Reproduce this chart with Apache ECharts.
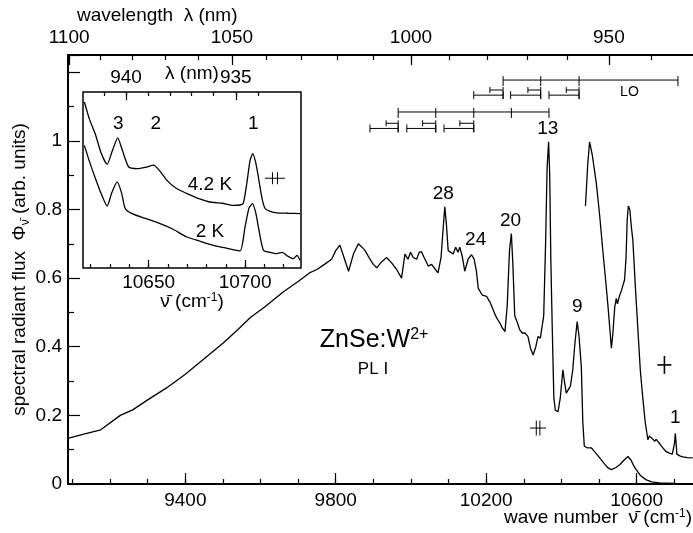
<!DOCTYPE html>
<html>
<head>
<meta charset="utf-8">
<script src="https://cdn.jsdelivr.net/npm/echarts@6.0.0/dist/echarts.min.js"></script>
<style>
  html, body { margin: 0; padding: 0; background: #fff; }
  #chart { width: 693px; height: 533px; }
</style>
</head>
<body>
<div id="chart"></div>
<script>
// PL I spectrum, wave number (cm-1) and spectral radiant flux (arb. units)
const mainWave = [9090, 9130, 9175, 9227, 9260, 9300, 9350, 9400, 9450, 9500, 9540, 9573, 9610, 9661, 9700, 9730, 9750, 9770, 9789, 9800,
  9811, 9822, 9834, 9847, 9860, 9870, 9878, 9891, 9900, 9909, 9920, 9935, 9948, 9962, 9975, 9984, 9992, 9999, 10006, 10015,
  10022, 10028, 10035, 10046, 10055, 10065, 10072, 10080, 10086, 10090, 10094, 10099, 10106, 10112, 10119, 10125, 10130, 10137, 10143, 10152,
  10161, 10168, 10174, 10179, 10190, 10201, 10210, 10216, 10223, 10230, 10236, 10243, 10250, 10256, 10262, 10267, 10271, 10276, 10283, 10289,
  10296, 10303, 10311, 10318, 10325, 10332, 10338, 10344, 10349, 10353, 10358, 10362, 10366, 10369, 10372, 10376, 10380, 10384, 10391, 10397,
  10404, 10408, 10413, 10418, 10424, 10430, 10436, 10442, 10447, 10453, 10457, 10461, 10470, 10480, 10490, 10502, 10515, 10525, 10533, 10545,
  10555, 10567, 10577, 10585, 10593, 10599, 10610, 10626, 10640, 10661, 10700, 10750];
const mainFlux = [0.134, 0.145, 0.158, 0.200, 0.216, 0.245, 0.280, 0.320, 0.365, 0.410, 0.450, 0.485, 0.515, 0.560, 0.590, 0.615, 0.625, 0.640, 0.655, 0.680,
  0.696, 0.660, 0.620, 0.670, 0.700, 0.690, 0.680, 0.655, 0.640, 0.630, 0.645, 0.660, 0.645, 0.625, 0.600, 0.670, 0.655, 0.675, 0.660, 0.655,
  0.675, 0.677, 0.660, 0.635, 0.640, 0.625, 0.615, 0.660, 0.750, 0.808, 0.760, 0.680, 0.675, 0.670, 0.690, 0.675, 0.690, 0.660, 0.620, 0.655,
  0.668, 0.655, 0.620, 0.570, 0.550, 0.547, 0.530, 0.515, 0.495, 0.480, 0.470, 0.455, 0.444, 0.520, 0.680, 0.730, 0.640, 0.490, 0.470, 0.450,
  0.440, 0.440, 0.430, 0.395, 0.376, 0.400, 0.430, 0.425, 0.430, 0.490, 0.700, 0.920, 0.997, 0.900, 0.650, 0.440, 0.250, 0.215, 0.211, 0.250,
  0.333, 0.300, 0.265, 0.270, 0.285, 0.330, 0.410, 0.473, 0.430, 0.342, 0.180, 0.110, 0.105, 0.105, 0.092, 0.076, 0.058, 0.046, 0.042, 0.048,
  0.056, 0.070, 0.080, 0.070, 0.052, 0.042, 0.025, 0.012, 0.006, 0.003, 0.002, 0.001];

// magnified high energy part of the spectrum
const magWave = [10464, 10470, 10475, 10482, 10493, 10502, 10510, 10518, 10524, 10529, 10533, 10537, 10542, 10546, 10549, 10551, 10555, 10559, 10564, 10568,
  10572, 10575, 10578, 10582, 10586, 10590, 10597, 10604, 10610, 10617, 10623, 10630, 10634, 10639, 10644, 10648, 10652, 10657, 10663, 10670,
  10678, 10687, 10695, 10699, 10701, 10703, 10705, 10707, 10715, 10723, 10735, 10749];
const magFlux = [0.810, 0.930, 0.997, 0.960, 0.876, 0.780, 0.682, 0.590, 0.517, 0.450, 0.396, 0.440, 0.517, 0.541, 0.525, 0.527, 0.550, 0.561, 0.580, 0.595,
  0.660, 0.770, 0.810, 0.800, 0.750, 0.711, 0.570, 0.440, 0.330, 0.245, 0.180, 0.129, 0.140, 0.139, 0.130, 0.124, 0.130, 0.129, 0.115, 0.105,
  0.095, 0.090, 0.087, 0.090, 0.120, 0.148, 0.120, 0.087, 0.082, 0.079, 0.077, 0.076];

// inset: 4.2 K and 2 K spectra near the zero phonon line
const inset42Wave = [10616.7, 10619.5, 10622.4, 10625.5, 10628.5, 10631.3, 10634, 10636.4, 10639.7, 10644, 10648.3, 10652.6, 10656, 10659.5, 10664.3, 10669.9, 10675.7, 10681.9,
  10688.1, 10694, 10697.4, 10699.1, 10700.9, 10702.6, 10704, 10705.5, 10706.9, 10708.8, 10710.4, 10713, 10716.4, 10722.3, 10728.5];
const inset42Flux = [0.943, 0.840, 0.760, 0.650, 0.589, 0.669, 0.739, 0.669, 0.574, 0.565, 0.572, 0.584, 0.549, 0.498, 0.453, 0.423, 0.396, 0.375,
  0.368, 0.356, 0.358, 0.368, 0.480, 0.612, 0.650, 0.600, 0.517, 0.396, 0.338, 0.322, 0.313, 0.311, 0.309];
const inset2Wave = [10616.7, 10619.5, 10622.4, 10625.5, 10628.5, 10631, 10633.7, 10635.9, 10637.9, 10641.4, 10648.3, 10656, 10662.7, 10669.9, 10676.7, 10683.6, 10690.7, 10697.4,
  10700, 10702, 10703.8, 10705.5, 10706.9, 10709.5, 10713, 10716.4, 10719.2, 10722.3, 10725, 10726.9, 10728.5];
const inset2Flux = [0.697, 0.600, 0.510, 0.420, 0.352, 0.430, 0.489, 0.430, 0.338, 0.309, 0.282, 0.252, 0.220, 0.176, 0.152, 0.129, 0.112, 0.097,
  0.233, 0.339, 0.366, 0.316, 0.233, 0.101, 0.089, 0.082, 0.089, 0.066, 0.053, 0.072, 0.044];

// axis ticks
const waveTicks = [9100, 9200, 9300, 9400, 9500, 9600, 9700, 9800, 9900, 10000, 10100, 10200, 10300, 10400, 10500, 10600, 10700];
const waveLabels = [9400, 9800, 10200, 10600];
const lambdaTicks = [1100, 1090, 1080, 1070, 1060, 1050, 1040, 1030, 1020, 1010, 1000, 990, 980, 970, 960, 950, 940];
const lambdaLabels = [1100, 1050, 1000, 950];
const insetWaveTicks = [10620, 10630, 10640, 10650, 10660, 10670, 10680, 10690, 10700, 10710, 10720];
const insetWaveLabels = [10650, 10700];
const insetLambdaTicks = [941, 940, 939, 938, 937, 936, 935, 934];
const insetLambdaLabels = [940, 935];

// peak labels
const peakNames = ['28', '24', '20', '13', '9', '1'];
const peakWave = [10086, 10172, 10265, 10364, 10442, 10703];
const peakFlux = [0.847, 0.713, 0.767, 1.036, 0.517, 0.192];
const insetPeakNames = ['3', '2', '1', '4.2 K', '2 K'];
const insetPeakWave = [10634.3, 10653.7, 10704.3, 10681.8, 10681.8];
const insetPeakFlux = [0.822, 0.822, 0.822, 0.472, 0.206];

// LO phonon ladders at the top
const loLadders = [[10245, 10345, 10447, 10710], [9966, 10066, 10167, 10267, 10367]];
const loLadderFlux = [1.177, 1.084];
const loSpans = [[10167, 10245], [10265, 10345], [10367, 10447], [9891, 9966], [9989, 10066], [10088, 10167]];
const loSpanFlux = [1.133, 1.133, 1.133, 1.036, 1.036, 1.036];
const loSubSpans = [[10210, 10245], [10311, 10345], [10413, 10447], [9934, 9966], [10031, 10066], [10130, 10167]];
const loSubFlux = [1.148, 1.148, 1.148, 1.051, 1.051, 1.051];

// resolution / error markers: [wave, flux, kind]  kind 0 = cross, 1 = double bar
const mainMarkers = [[10674, 0.347, 0], [10338, 0.163, 1]];
const insetMarkers = [[10715.5, 0.51, 1]];

const FONT = 'Liberation Sans, Arial, Helvetica, sans-serif';
const toWave = nm => 1e7 / nm;
const zip = (a, b) => a.map((v, i) => [v, b[i]]);

const chart = echarts.init(document.getElementById('chart'));

const lineStyle = { color: '#000', width: 1.3 };
const seg = (x1, y1, x2, y2, w) => ({ type: 'line', shape: { x1, y1, x2, y2 }, style: { stroke: '#000', lineWidth: w || 1 } });

function spanSeries(spans, flux, cap, leftOnly) {
  return {
    type: 'custom', xAxisIndex: 1, yAxisIndex: 0, silent: true,
    data: spans.map((s, i) => [s[0], s[1], flux[i]]),
    renderItem: (params, api) => {
      const p1 = api.coord([api.value(0), api.value(2)]);
      const p2 = api.coord([api.value(1), api.value(2)]);
      const ch = [seg(p1[0], p1[1], p2[0], p2[1]), seg(p1[0], p1[1] - cap, p1[0], p1[1] + cap)];
      if (!leftOnly) ch.push(seg(p2[0], p2[1] - cap, p2[0], p2[1] + cap));
      else ch.push(seg(p2[0], p2[1] - cap, p2[0], p2[1] + cap * 3));
      return { type: 'group', children: ch };
    }
  };
}

function markerSeries(data, xi, yi, big) {
  return {
    type: 'custom', xAxisIndex: xi, yAxisIndex: yi, silent: true, z: 5,
    data: data,
    renderItem: (params, api) => {
      const p = api.coord([api.value(0), api.value(1)]);
      if (api.value(2) === 0) {
        return { type: 'group', children: [seg(p[0] - 7, p[1], p[0] + 7, p[1], 1.6), seg(p[0], p[1] - 9, p[0], p[1] + 9, 1.6)] };
      }
      const hw = big ? 10 : 8, gap = big ? 2.5 : 1.8, hh = big ? 6 : 7.5;
      return { type: 'group', children: [
        seg(p[0] - hw, p[1], p[0] + hw, p[1]),
        seg(p[0] - gap, p[1] - hh, p[0] - gap, p[1] + hh),
        seg(p[0] + gap, p[1] - hh, p[0] + gap, p[1] + hh)
      ] };
    }
  };
}

function labelSeries(names, xs, ys, xi, yi, size) {
  return {
    type: 'scatter', xAxisIndex: xi, yAxisIndex: yi, symbolSize: 0, silent: true, z: 6,
    itemStyle: { opacity: 1 },
    data: names.map((n, i) => ({ name: n, value: [xs[i], ys[i]] })),
    label: { show: true, position: 'inside', formatter: '{b}', color: '#000', opacity: 1, fontSize: size, fontFamily: FONT }
  };
}

const axisFont = { color: '#000', fontSize: 19, fontFamily: FONT };

function xAxes(grid, min, max, minorTicks, majorTicks, fmt, pos, minorLen, majorLen, margin, extra) {
  return [
    { gridIndex: grid, type: 'value', min, max, position: pos,
      axisLine: { show: grid === 0, lineStyle: { color: '#000', width: 2 } },
      axisTick: { show: true, inside: true, length: minorLen, customValues: minorTicks, lineStyle: { color: '#000', width: 1.2 } },
      axisLabel: { show: false }, splitLine: { show: false } },
    Object.assign({ gridIndex: grid, type: 'value', min, max, position: pos,
      axisLine: { show: false },
      axisTick: { show: true, inside: true, length: majorLen, customValues: majorTicks, lineStyle: { color: '#000', width: 1.2 } },
      axisLabel: Object.assign({ show: true, customValues: majorTicks, formatter: fmt, margin }, axisFont),
      splitLine: { show: false } }, extra || {})
  ];
}

const lambdaFmt = v => String(Math.round(1e7 / v));
const MAIN_MIN = 9088, MAIN_MAX = 10750, IN_MIN = 10616, IN_MAX = 10729;

const xAxis = [].concat(
  xAxes(0, MAIN_MIN, MAIN_MAX, waveTicks, waveLabels, v => String(v), 'bottom', 5, 11, 7),
  xAxes(0, MAIN_MIN, MAIN_MAX, lambdaTicks.map(toWave), lambdaLabels.map(toWave), lambdaFmt, 'top', 5, 10, 8),
  xAxes(1, IN_MIN, IN_MAX, insetWaveTicks, insetWaveLabels, v => String(v), 'bottom', 4, 8, 5,
    { name: 'ν̄ (cm{sup|-1})', nameLocation: 'middle', nameGap: 24, nameMoveOverlap: false,
      nameTextStyle: Object.assign({ rich: { sup: { fontSize: 12, fontFamily: FONT, color: '#000', padding: [0, 0, 8, 0] } } }, axisFont) }),
  xAxes(1, IN_MIN, IN_MAX, insetLambdaTicks.map(toWave), insetLambdaLabels.map(toWave), lambdaFmt, 'top', 4, 8, 5,
    { name: 'λ (nm)', nameLocation: 'middle', nameGap: 9, nameMoveOverlap: false, nameTextStyle: axisFont })
);

const option = {
  animation: false,
  backgroundColor: '#fff',
  grid: [
    { left: 68, top: 55, width: 625, height: 429 },
    { left: 83, top: 92, width: 218, height: 176, show: true, borderColor: '#000', borderWidth: 1.5, backgroundColor: '#fff' }
  ],
  xAxis: xAxis,
  yAxis: [
    { gridIndex: 0, type: 'value', min: 0, max: 1.25, interval: 0.2,
      axisLine: { show: true, lineStyle: { color: '#000', width: 2 } },
      axisTick: { show: true, inside: true, length: 12, lineStyle: { color: '#000', width: 1.2 } },
      minorTick: { show: true, splitNumber: 2, length: 6, lineStyle: { color: '#000', width: 1.2 } },
      axisLabel: Object.assign({ margin: 6, formatter: v => (v > 1.05 ? '' : String(Math.round(v * 10) / 10)) }, axisFont),
      splitLine: { show: false },
      name: 'spectral radiant flux  Φ{sub|ν̄} (arb. units)', nameLocation: 'middle', nameGap: 36, nameRotate: 90, nameMoveOverlap: false,
      nameTextStyle: Object.assign({ rich: { sub: { fontSize: 12, fontFamily: FONT, color: '#000', padding: [12, 0, 0, 0] } } }, axisFont) },
    { gridIndex: 1, type: 'value', min: 0, max: 1,
      axisLine: { show: false }, axisTick: { show: false }, axisLabel: { show: false }, splitLine: { show: false } }
  ],
  series: [
    { type: 'line', xAxisIndex: 1, yAxisIndex: 0, data: zip(mainWave, mainFlux), showSymbol: false, symbol: 'none', lineStyle, silent: true },
    { type: 'line', xAxisIndex: 1, yAxisIndex: 0, data: zip(magWave, magFlux), showSymbol: false, symbol: 'none', lineStyle, silent: true },
    { type: 'line', xAxisIndex: 5, yAxisIndex: 1, data: zip(inset42Wave, inset42Flux), showSymbol: false, symbol: 'none', lineStyle, silent: true, smooth: 0.2 },
    { type: 'line', xAxisIndex: 5, yAxisIndex: 1, data: zip(inset2Wave, inset2Flux), showSymbol: false, symbol: 'none', lineStyle, silent: true, smooth: 0.2 },
    {
      type: 'custom', xAxisIndex: 1, yAxisIndex: 0, silent: true,
      data: loLadders.map((t, i) => [t[0], t[t.length - 1], loLadderFlux[i], i]),
      renderItem: (params, api) => {
        const ticks = loLadders[api.value(3)];
        const y = api.value(2);
        const p1 = api.coord([ticks[0], y]), p2 = api.coord([ticks[ticks.length - 1], y]);
        const ch = [seg(p1[0], p1[1], p2[0], p2[1])];
        ticks.forEach(t => { const p = api.coord([t, y]); ch.push(seg(p[0], p[1] - 4, p[0], p[1] + 6)); });
        return { type: 'group', children: ch };
      }
    },
    spanSeries(loSpans, loSpanFlux, 4, false),
    spanSeries(loSubSpans, loSubFlux, 3, true),
    markerSeries(mainMarkers, 1, 0, false),
    markerSeries(insetMarkers, 5, 1, true),
    labelSeries(peakNames, peakWave, peakFlux, 1, 0, 19),
    labelSeries(insetPeakNames, insetPeakWave, insetPeakFlux, 5, 1, 19),
    labelSeries(['LO'], [10581], [1.143], 1, 0, 14),
    labelSeries(['PL I'], [9899], [0.333], 1, 0, 17),
    {
      type: 'scatter', xAxisIndex: 1, yAxisIndex: 0, symbolSize: 0, silent: true, z: 6,
      itemStyle: { opacity: 1 },
      data: [{ name: 'ZnSe:W', value: [9902, 0.42] }],
      label: { show: true, position: 'inside', formatter: '{b}{sup|2+}', color: '#000', opacity: 1, fontSize: 25, fontFamily: FONT,
        rich: { sup: { fontSize: 16, fontFamily: FONT, color: '#000', padding: [0, 0, 10, 0] } } }
    }
  ],
  graphic: [
    { type: 'text', x: 77, y: 16, style: { text: 'wavelength  λ (nm)', fill: '#000', font: '19px ' + FONT, align: 'left', verticalAlign: 'middle' } },
    { type: 'text', x: 692, y: 518, style: { text: 'wave number  ν̄ (cm{sup|-1})', fill: '#000', font: '19px ' + FONT, align: 'right', verticalAlign: 'middle',
      rich: { sup: { fontSize: 12, fontFamily: FONT, fill: '#000', padding: [0, 0, 8, 0] } } } }
  ]
};
chart.setOption(option);
</script>
</body>
</html>
